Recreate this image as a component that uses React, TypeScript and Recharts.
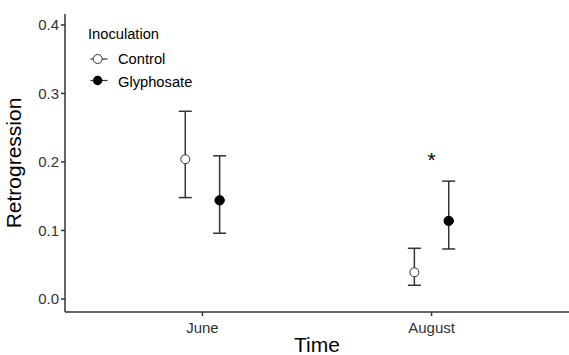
import React from 'react';
import { ComposedChart, Scatter, XAxis, YAxis, ErrorBar, Legend } from 'recharts';

const categories = ['June', 'August'];
const controlMean = [0.204, 0.039];
const controlLow = [0.148, 0.020];
const controlHigh = [0.274, 0.074];
const glyMean = [0.144, 0.114];
const glyLow = [0.096, 0.073];
const glyHigh = [0.209, 0.172];
const yTicks = [0, 0.1, 0.2, 0.3, 0.4];
const seriesNames = ['Control', 'Glyphosate'];
const legendTitle = 'Inoculation';
const sigMarks = [{ cat: 2, y: 0.203, label: '*' }];

const DODGE = 0.075;
const FONT = '"Liberation Sans", Arial, sans-serif';

const controlData = categories.map((c, i) => ({
  x: i + 1 - DODGE,
  y: controlMean[i],
  err: [controlMean[i] - controlLow[i], controlHigh[i] - controlMean[i]],
}));
const glyData = categories.map((c, i) => ({
  x: i + 1 + DODGE,
  y: glyMean[i],
  err: [glyMean[i] - glyLow[i], glyHigh[i] - glyMean[i]],
}));
const sigData = sigMarks.map((s) => ({ x: s.cat, y: s.y, label: s.label }));

const openCircle = (p: any) => (
  <circle cx={p.cx} cy={p.cy} r={4.5} fill="#fff" stroke="#333" strokeWidth={1} />
);
const filledCircle = (p: any) => (
  <circle cx={p.cx} cy={p.cy} r={4.7} fill="#000" stroke="#000" strokeWidth={1} />
);
const starShape = (p: any) => (
  <text x={p.cx} y={p.cy} textAnchor="middle" dominantBaseline="central" fontSize={21} fontFamily={FONT} fill="#000">
    {p.payload.label}
  </text>
);

const LegendContent = () => (
  <svg width={130} height={80} style={{ overflow: 'visible', display: 'block' }}>
    <text x={3} y={20.5} fontSize={14.7} fontFamily={FONT} fill="#000">{legendTitle}</text>
    {seriesNames.map((n, i) => (
      <g key={n}>
        <line x1={5.5} x2={22.5} y1={41 + i * 21.5} y2={41 + i * 21.5} stroke="#333" strokeWidth={1.2} />
        {i === 0 ? (
          <circle cx={12.7} cy={41} r={4.5} fill="#fff" stroke="#333" strokeWidth={1} />
        ) : (
          <circle cx={12.7} cy={62.5} r={4.7} fill="#000" />
        )}
        <text x={33} y={46 + i * 22.5} fontSize={14.7} fontFamily={FONT} fill="#000">{n}</text>
      </g>
    ))}
  </svg>
);

export default function App() {
  return (
    <div style={{ position: 'absolute', left: 0, top: 0, background: '#fff' }}>
      <ComposedChart width={569} height={355} margin={{ top: 14, right: 0, left: 0, bottom: 0 }}>
        <XAxis
          type="number"
          dataKey="x"
          domain={[0.4, 2.6]}
          ticks={[1, 2]}
          tickFormatter={(v: number) => categories[v - 1]}
          height={43}
          stroke="#333"
          strokeWidth={1.5}
          tickSize={4}
          tickMargin={6}
          tick={{ fill: '#333', fontSize: 15, fontFamily: FONT }}
          allowDataOverflow
          label={{ value: 'Time', position: 'insideBottom', offset: 3, fontSize: 21, fontFamily: FONT, fill: '#000' }}
        />
        <YAxis
          type="number"
          dataKey="y"
          domain={[-0.019, 0.416]}
          ticks={yTicks}
          tickFormatter={(v: number) => v.toFixed(1)}
          width={65}
          stroke="#333"
          strokeWidth={1.5}
          tickSize={4}
          tick={{ fill: '#333', fontSize: 15, fontFamily: FONT }}
          allowDataOverflow
          label={{ value: 'Retrogression', angle: -90, position: 'insideLeft', offset: 14, fontSize: 21, fontFamily: FONT, fill: '#000', style: { textAnchor: 'middle' } }}
        />
        <Legend
          layout="vertical"
          align="center"
          verticalAlign="middle"
          content={<LegendContent />}
          wrapperStyle={{ position: 'absolute', left: 85, top: 18, width: 130, height: 80 }}
        />
        <Scatter name="Control" data={controlData} dataKey="y" shape={openCircle} isAnimationActive={false}>
          <ErrorBar dataKey="err" direction="y" width={6.5} stroke="#333" strokeWidth={1.5} isAnimationActive={false} />
        </Scatter>
        <Scatter name="Glyphosate" data={glyData} dataKey="y" shape={filledCircle} isAnimationActive={false}>
          <ErrorBar dataKey="err" direction="y" width={6.5} stroke="#333" strokeWidth={1.5} isAnimationActive={false} />
        </Scatter>
        <Scatter name="sig" data={sigData} dataKey="y" shape={starShape} isAnimationActive={false} legendType="none" />
      </ComposedChart>
    </div>
  );
}
